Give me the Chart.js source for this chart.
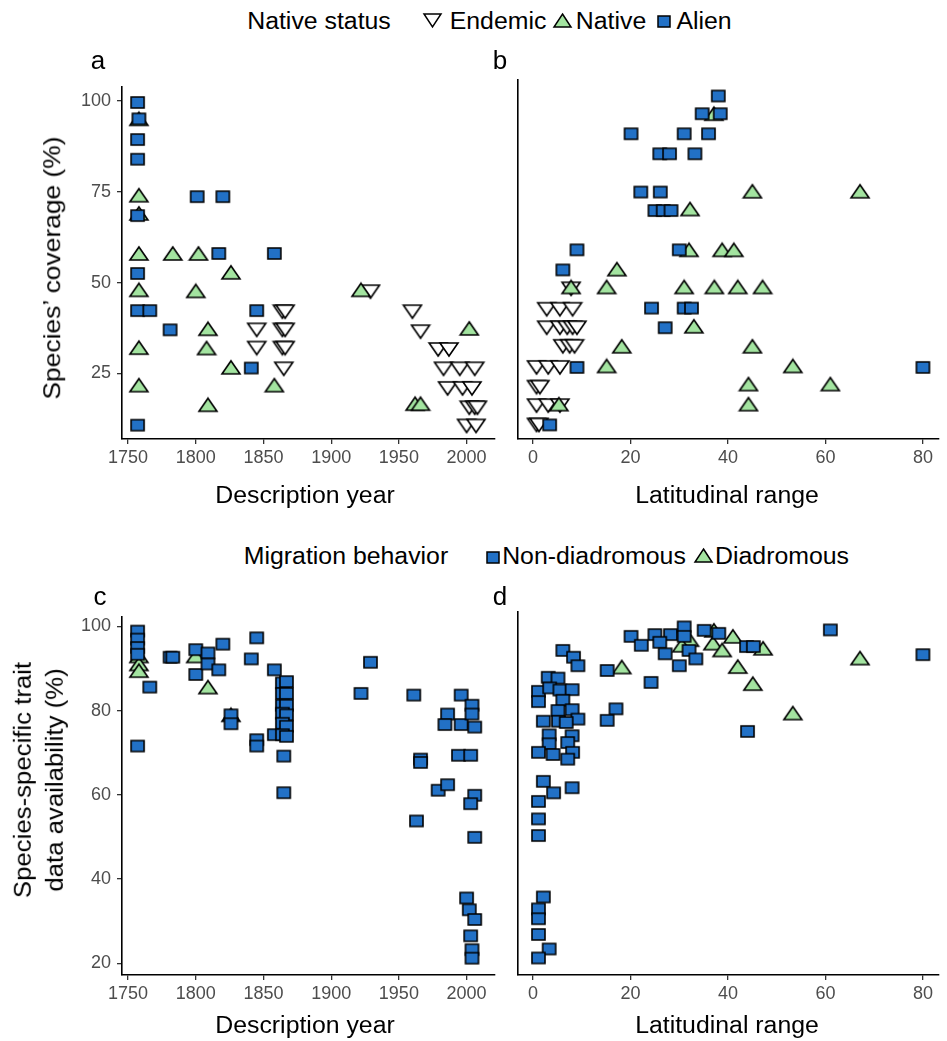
<!DOCTYPE html>
<html>
<head>
<meta charset="utf-8">
<script src="https://cdn.jsdelivr.net/npm/chart.js@4.4.0/dist/chart.umd.min.js"></script>
<style>
  body { margin: 0; background: #fff; width: 947px; height: 1041px; position: relative; overflow: hidden;
         font-family: "Liberation Sans", Arial, sans-serif; }
  .t { position: absolute; white-space: nowrap; color: #000; line-height: 1.4; text-align: center; }
  canvas { position: absolute; }
</style>
</head>
<body>
<canvas id="chart-a" width="445" height="410" style="left:60px;top:70px"></canvas>
<canvas id="chart-b" width="442" height="410" style="left:505px;top:70px"></canvas>
<canvas id="chart-c" width="445" height="420" style="left:60px;top:600px"></canvas>
<canvas id="chart-d" width="442" height="420" style="left:505px;top:600px"></canvas>
<script>
// ── panel a: native status vs description year ──
const endemicYear = [1845, 1845, 1864, 1866, 1864, 1866, 1864, 1866, 1865, 1929, 1960, 1966, 1979, 1987, 1983, 1995, 2006, 1986, 1997, 2004, 2002, 2006, 2008, 2000, 2007];
const endemicCovA = [37, 32, 42, 42, 37, 37, 32, 32, 26.3, 47.5, 42, 36.5, 31.6, 31.6, 26.3, 26.3, 26.3, 20.9, 20.9, 20.9, 15.6, 15.6, 15.6, 10.6, 10.6];
const nativeYear  = [1758, 1758, 1758, 1758, 1783, 1802, 1826, 1758, 1800, 1809, 1758, 1808, 1826, 1758, 1858, 1809, 1922, 2002, 1962, 1966];
const nativeCovA  = [95, 74, 69, 58, 58, 58, 52.8, 48, 47.7, 37.3, 32.1, 32, 26.7, 21.8, 21.8, 16.4, 48, 37.4, 16.7, 16.7];
const alienYear   = [1757, 1758, 1757, 1757, 1757, 1801, 1820, 1817, 1858, 1757, 1757, 1766, 1845, 1781, 1841, 1757];
const alienCovA   = [99.5, 95, 89.3, 83.9, 68.4, 73.6, 73.6, 58, 58, 52.5, 42.3, 42.3, 42.3, 37, 26.5, 10.8];

// ── panel b: native status vs latitudinal range ──
const endemicLat  = [7.8, 2.8, 5.5, 8.1, 2.8, 5.5, 7, 8.1, 9, 6.1, 7.5, 8.5, 0.7, 3.1, 5.5, 0.7, 1.4, 0.7, 3.1, 5.5, 0.7, 1.2];
const endemicCovB = [47.5, 42, 42, 42, 37, 37, 37, 37, 37, 32, 32, 32, 26.3, 26.3, 26.3, 21, 21, 16, 16, 16, 10.8, 10.8];
const nativeLat   = [37.1, 32.2, 45, 67.1, 32, 38.8, 41.2, 17.2, 15.1, 31, 37.2, 42, 47.1, 7.8, 33, 18.2, 45, 15.1, 53.3, 44.2, 61, 44.2, 5.3];
const nativeCovB  = [94.7, 69, 73.8, 73.8, 58, 58, 58, 52.8, 48, 48, 48, 48, 48, 48, 37.4, 32, 32, 26.7, 26.7, 21.8, 21.8, 16.4, 16.4];
const alienLat    = [38, 34.7, 38.4, 20.1, 31, 36, 26, 28, 33.2, 22.1, 26.1, 25, 26.7, 28.3, 9, 30, 6.1, 24.3, 31, 32.5, 27.1, 9, 3.4, 80];
const alienCovB   = [99.5, 94.7, 94.7, 89.3, 89.3, 89.3, 83.9, 83.9, 83.9, 73.6, 73.6, 68.6, 68.6, 68.6, 58, 58, 52.6, 42.3, 42.3, 42.3, 37, 26.3, 10.8, 26.3];

// ── panel c: migration behaviour vs description year ──
const nonDiaYear  = [1757, 1757, 1757, 1757, 1757, 1781, 1783, 1766, 1800, 1800, 1809, 1809, 1820, 1817, 1826, 1826,
                     1845, 1841, 1845, 1845, 1858, 1858, 1864, 1867, 1864, 1867, 1864, 1867, 1864, 1867, 1864, 1867,
                     1864, 1867, 1865, 1865, 1929, 1922, 1961, 1966, 1966, 1963, 1979, 1986, 1986, 1984, 1996, 1996,
                     1994, 2003, 2004, 2004, 2006, 2006, 2003, 2006, 2000, 2002, 2006, 2003, 2004, 2004];
const nonDiaAvailC = [98.9, 97, 95, 93.4, 71.6, 92.7, 92.7, 85.6, 94.5, 88.6, 93.7, 91.1, 95.8, 89.7, 79, 76.9,
                      97.3, 92.3, 73.1, 71.6, 89.7, 74.3, 86.6, 86.9, 84.1, 84.1, 81.3, 81.3, 79.4, 79.0, 77, 76.3,
                      74.3, 73.9, 69.2, 60.5, 91.5, 84.1, 83.7, 68.5, 67.7, 53.8, 61.1, 62.4, 79.2, 76.7, 83.7, 76.7,
                      69.4, 69.4, 81.3, 79.2, 76.1, 59.9, 57.9, 49.9, 35.5, 32.7, 30.4, 26.5, 23.2, 21.2];
const diaYear     = [1758, 1758, 1758, 1800, 1809, 1826];
const diaAvailC   = [93, 91.1, 89.5, 93, 85.6, 79];

// ── panel d: migration behaviour vs latitudinal range ──
const nonDiaLat   = [20.1, 22.2, 25, 28.2, 26, 27.1, 31, 31, 32, 33.4, 30, 35.1, 15.2, 24.2, 17, 15.2,
                     6.1, 8.3, 9.2, 3.1, 5.1, 1.1, 3.4, 5.5, 8.0, 1.1, 6.1, 5.1, 8.0, 2.1, 5.2, 9.2, 6.8, 3.3, 8.0,
                     3.3, 7.1, 1.1, 4.1, 8.1, 7.1, 2.1, 4.2, 8.0, 1.1, 1.1, 1.1, 2.1, 1.1, 1.1, 1.1, 3.3, 1.1,
                     38.1, 43.8, 45.2, 44, 61, 80];
const nonDiaAvailD = [96.6, 94.5, 97, 97, 95.2, 92.5, 98.8, 96.6, 93.3, 91.3, 89.7, 98, 88.6, 85.8, 79.6, 76.9,
                      93.3, 91.7, 89.7, 87, 86.8, 83.7, 84.5, 84, 84.1, 81.3, 81.6, 79.2, 79.4, 76.7, 76.7, 77.2, 76.4, 73.5, 73.3,
                      71.4, 71.7, 69.4, 68.9, 69.4, 67.8, 62.6, 59.9, 61.1, 57.9, 53.8, 49.9, 35.5, 32.7, 30.4, 26.7, 23.3, 21.2,
                      97.3, 94.2, 94.2, 74.3, 98.1, 92.3];
const diaLat      = [32.1, 37.1, 36.9, 38.8, 18.2, 41, 47.2, 42, 45.1, 53.3, 67.1, 30.5];
const diaAvailD   = [95.8, 98, 95, 93.4, 89.4, 96.6, 93.8, 89.5, 85.5, 78.6, 91.5, 94.5];

// ── axis ticks ──
const yearTicks = [1750, 1800, 1850, 1900, 1950, 2000];
const latTicks  = [0, 20, 40, 60, 80];
const covTicks  = [25, 50, 75, 100];
const availTicks = [20, 40, 60, 80, 100];

const BLUE  = '#2271c6';
const GREEN = '#a3e4a0';
const TICK_FONT = { family: '"Liberation Sans", Arial, sans-serif', size: 18 };

// marker glyphs (ggplot shapes 22, 24, 25)
function marker(kind, w, h, lw) {
  const pad = 2;
  const c = document.createElement('canvas');
  c.width = w + 2 * pad; c.height = h + 2 * pad;
  const g = c.getContext('2d');
  g.lineWidth = lw || 1.6; g.strokeStyle = '#000';
  g.beginPath();
  if (kind === 'square') {
    g.rect(pad, pad, w, h);
    g.fillStyle = BLUE;
  } else if (kind === 'up') {
    g.moveTo(pad + w / 2, pad); g.lineTo(pad + w, pad + h); g.lineTo(pad, pad + h); g.closePath();
    g.fillStyle = GREEN;
  } else {
    g.moveTo(pad, pad); g.lineTo(pad + w, pad); g.lineTo(pad + w / 2, pad + h); g.closePath();
    g.fillStyle = '#fff';
  }
  g.fill(); g.stroke();
  return c;
}
const SQ   = marker('square', 13, 11);
const UP   = marker('up', 18, 13);
const DOWN = marker('down', 18, 13);

const pts = (xs, ys) => xs.map((x, i) => ({ x, y: ys[i] }));
const set = (xs, ys, style) => ({ data: pts(xs, ys), pointStyle: style, pointRadius: 7, showLine: false });

function makePanel(id, datasets, xr, xt, yr, yt, yLabels, box) {
  return new Chart(document.getElementById(id).getContext('2d'), {
    type: 'scatter',
    data: { datasets },
    options: {
      responsive: false, animation: false, devicePixelRatio: 1,
      layout: { padding: { top: box.top, right: box.right, left: 0, bottom: 0 } },
      plugins: { legend: { display: false }, tooltip: { enabled: false } },
      scales: {
        x: {
          type: 'linear', min: xr[0], max: xr[1],
          afterBuildTicks: s => { s.ticks = xt.map(v => ({ value: v })); },
          afterFit: s => { s.height = box.xh; },
          grid: { drawOnChartArea: false, drawTicks: true, tickLength: 5, color: '#333', lineWidth: 1.3 },
          border: { display: true, color: '#000', width: 1.6 },
          ticks: { color: '#4d4d4d', font: TICK_FONT, padding: 3, maxRotation: 0, autoSkip: false,
                   callback: v => String(v) }
        },
        y: {
          type: 'linear', min: yr[0], max: yr[1],
          afterBuildTicks: s => { s.ticks = yt.map(v => ({ value: v })); },
          afterFit: s => { s.width = box.yw; },
          grid: { display: yLabels, drawOnChartArea: false, drawTicks: true, tickLength: 5, color: '#333', lineWidth: 1.3 },
          border: { display: true, color: '#000', width: 1.6 },
          ticks: { display: yLabels, color: '#4d4d4d', font: TICK_FONT, padding: 6, autoSkip: false,
                   callback: v => String(v) }
        }
      }
    }
  });
}

const charts = {};
charts.a = makePanel('chart-a', [
  set(alienYear, alienCovA, SQ),
  set(nativeYear, nativeCovA, UP),
  set(endemicYear, endemicCovA, DOWN)
], [1745.5, 2021], yearTicks, [7, 103.8], covTicks, true, { top: 10, right: 10, yw: 62, xh: 41 });

charts.b = makePanel('chart-b', [
  set(alienLat, alienCovB, SQ),
  set(nativeLat, nativeCovB, UP),
  set(endemicLat, endemicCovB, DOWN)
], [-3.1, 83.3], latTicks, [7, 103.8], covTicks, false, { top: 10, right: 2, yw: 13, xh: 41 });

charts.c = makePanel('chart-c', [
  set(nonDiaYear, nonDiaAvailC, SQ),
  set(diaYear, diaAvailC, UP)
], [1745.5, 2021], yearTicks, [17.2, 102.3], availTicks, true, { top: 12, right: 10, yw: 62, xh: 45 });

charts.d = makePanel('chart-d', [
  set(nonDiaLat, nonDiaAvailD, SQ),
  set(diaLat, diaAvailD, UP)
], [-3.1, 83.3], latTicks, [17.2, 102.3], availTicks, false, { top: 12, right: 2, yw: 13, xh: 45 });

// ── text: titles, legends, panel letters ──
function txt(s, x, y, size, extra) {
  const d = document.createElement('div');
  d.className = 't';
  d.innerHTML = s;
  d.style.left = x + 'px';
  d.style.top = y + 'px';
  d.style.fontSize = size + 'px';
  d.style.transform = 'translate(-50%,-50%) ' + (extra || '');
  document.body.appendChild(d);
}
function icon(glyph, x, y) {
  glyph.style.left = Math.round(x - glyph.width / 2) + 'px';
  glyph.style.top = Math.round(y - glyph.height / 2) + 'px';
  document.body.appendChild(glyph);
}

const STRETCH = 'scaleX(1.08)';
txt('Native status', 319, 21, 23, STRETCH);
icon(marker('down', 17, 13, 1.5), 432, 20);
txt('Endemic', 498, 21, 23, STRETCH);
icon(marker('up', 17, 13, 1.5), 562, 20);
txt('Native', 611, 21, 23, STRETCH);
icon(marker('square', 12, 11, 1.5), 664, 21);
txt('Alien', 704, 21, 23, STRETCH);

txt('Migration behavior', 346, 556, 23, STRETCH);
icon(marker('square', 12, 11, 1.5), 493, 557);
txt('Non-diadromous', 594, 556, 23, STRETCH);
icon(marker('up', 17, 13, 1.5), 703, 555);
txt('Diadromous', 782, 556, 23, STRETCH);

txt('a', 98, 60, 26);
txt('b', 500, 60, 26);
txt('c', 100, 596, 26);
txt('d', 500, 596, 26);

txt('Description year', 305, 495, 23, STRETCH);
txt('Latitudinal range', 727, 495, 23, STRETCH);
txt('Description year', 305, 1025, 23, STRETCH);
txt('Latitudinal range', 727, 1025, 23, STRETCH);

txt('Species’ coverage (%)', 52, 268, 24, 'rotate(-90deg) scaleX(1.1)');
txt('Species-specific trait<br>data availability (%)', 39, 780, 23, 'rotate(-90deg) scaleX(1.12)');
</script>
</body>
</html>
